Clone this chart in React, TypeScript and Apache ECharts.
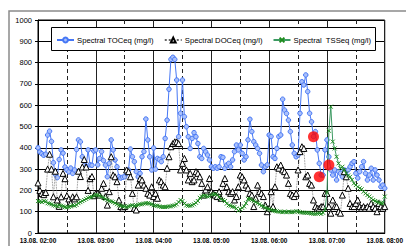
import { useEffect, useRef } from "react";
import * as echarts from "echarts";

// minutes after 13.08. 02:00, sampled every 2 minutes
const STEP_MIN = 2;
const hourLabels = [
  "13.08. 02:00",
  "13.08. 03:00",
  "13.08. 04:00",
  "13.08. 05:00",
  "13.08. 06:00",
  "13.08. 07:00",
  "13.08. 08:00",
];
const seriesNames = [
  "Spectral TOCeq (mg/l)",
  "Spectral DOCeq (mg/l)",
  "Spectral  TSSeq (mg/l)",
];

const tocValues = [
  400, 380, 372, 365, 370, 460, 478, 430, 330, 275,
  260, 345, 390, 375, 310, 296, 287, 305, 280, 296,
  392, 437, 428, 358, 335, 311, 390, 320, 318, 385,
  390, 320, 350, 382, 340, 319, 264, 327, 437, 390,
  343, 311, 264, 258, 262, 264, 280, 296, 394, 358,
  335, 288, 264, 280, 358, 382, 535, 437, 358, 296,
  399, 300, 350, 345, 335, 358, 444, 530, 675, 815,
  825, 815, 718, 452, 562, 718, 546, 499, 452, 397,
  444, 471, 452, 420, 358, 350, 397, 381, 366, 343,
  311, 304, 311, 304, 311, 358, 355, 304, 319, 327,
  311, 343, 382, 413, 390, 413, 374, 343, 358, 437,
  534, 476, 429, 413, 397, 374, 319, 288, 311, 320,
  460, 453, 358, 350, 397, 453, 460, 628, 577, 561,
  530, 476, 413, 374, 358, 366, 562, 710, 695, 742,
  664, 562, 522, 453, 476, 390, 327, 272, 272, 390,
  437, 358, 296, 272, 296, 249, 288, 280, 264, 296,
  272, 296, 311, 327, 335, 280, 258, 288, 311, 335,
  280, 249, 272, 304, 249, 296, 272, 249, 217, 225,
  210,
];

const docValues = [
  235, 200, 185, 180, 190, 300, 370, 300, 170, 290,
  155, 125, 170, 280, 255, 175, 160, 140, 170, 160,
  170, 290, 265, 310, 345, 310, 200, 255, 265, 175,
  185, 186, 178, 210, 233, 171, 131, 194, 358, 272,
  264, 241, 155, 124, 116, 124, 296, 288, 264, 186,
  116, 108, 225, 256, 249, 225, 210, 186, 178, 217,
  171, 186, 163, 249, 241, 225, 217, 304, 358, 405,
  420, 428, 428, 420, 296, 327, 350, 296, 249, 280,
  241, 249, 288, 280, 264, 233, 178, 202, 217, 256,
  194, 186, 178, 171, 194, 163, 233, 256, 217, 194,
  186, 194, 155, 171, 217, 272, 264, 249, 225, 210,
  186, 178, 124, 163, 225, 194, 186, 171, 131, 100,
  116, 194, 124, 217, 311, 304, 319, 296, 288, 272,
  233, 186, 178, 171, 186, 296, 382, 405, 397, 264,
  272, 233, 225, 155, 124, 116, 116, 124, 124, 186,
  186, 124, 93, 155, 124, 124, 100, 93, 178, 288,
  264, 210, 139, 124, 124, 139, 155, 124, 116, 124,
  116, 124, 116, 139, 124, 116, 100, 139, 124, 116,
  124,
];

const tssValues = [
  150, 148, 145, 150, 148, 140, 138, 135, 130, 128,
  125, 130, 128, 125, 122, 120, 122, 125, 130, 128,
  132, 140, 145, 150, 155, 160, 165, 168, 170, 175,
  180, 178, 175, 170, 165, 160, 155, 150, 148, 145,
  140, 135, 130, 128, 125, 125, 122, 125, 128, 130,
  128, 130, 132, 135, 135, 138, 140, 140, 138, 135,
  130, 128, 128, 125, 122, 122, 122, 123, 125, 125,
  128, 130, 135, 145, 155, 150, 138, 130, 128, 128,
  130, 135, 142, 150, 165, 172, 175, 175, 172, 172,
  180, 182, 182, 178, 170, 160, 155, 150, 138, 130,
  128, 124, 122, 115, 105, 112, 118, 125, 140, 160,
  160, 155, 150, 145, 140, 135, 128, 124, 118, 115,
  112, 108, 105, 104, 102, 100, 100, 98, 100, 98,
  100, 98, 98, 100, 102, 100, 98, 96, 95, 95,
  95, 94, 92, 90, 90, 92, 92, 90, 95, 110,
  190, 480, 593, 429, 397, 358, 327, 304, 311, 296,
  280, 270, 264, 250, 233, 225, 217, 210, 205, 194,
  186, 178, 171, 163, 155, 150, 147, 143, 141, 139,
  171,
];

// lab samples: [minutes after 02:00, mg/l]
const labMinutes = [286, 292, 302];
const labValues = [452, 264, 319];

const toPairs = (vals: number[]) => vals.map((v, i) => [i * STEP_MIN, v]);

const FONT = "Liberation Sans, Arial, sans-serif";

export default function App() {
  const ref = useRef<HTMLDivElement>(null);
  useEffect(() => {
    if (!ref.current) return;
    const chart = echarts.init(ref.current, undefined, { renderer: "svg" });
    chart.setOption({
      animation: false,
      backgroundColor: "#fff",
      textStyle: { fontFamily: FONT },
      grid: {
        left: 38,
        top: 20,
        right: 20,
        bottom: 13,
        show: true,
        borderColor: "#000",
        borderWidth: 1,
        backgroundColor: "transparent",
      },
      graphic: [
        {
          type: "rect",
          z: 0,
          silent: true,
          shape: { x: 9, y: 11, width: 420, height: 260 },
          style: { fill: "none", stroke: "#8a8a8a", lineWidth: 1.5 },
        },
        {
          type: "rect",
          z: 50,
          silent: true,
          shape: { x: 51.5, y: 27.5, width: 324, height: 23 },
          style: { fill: "#fff", stroke: "#000", lineWidth: 1 },
        },
      ],
      legend: {
        z: 60,
        data: seriesNames,
        left: 56,
        top: 36,
        padding: 0,
        itemWidth: 17,
        itemHeight: 6,
        itemGap: 10,
        textStyle: { fontSize: 7.7, color: "#000", fontFamily: FONT, padding: [0, 0, 0, -2] },
      },
      xAxis: {
        type: "value",
        min: 0,
        max: 360,
        interval: 60,
        axisLine: { show: true, lineStyle: { color: "#000", width: 1 } },
        axisTick: { show: false },
        axisLabel: {
          fontSize: 6.5,
          fontWeight: "bold",
          color: "#000",
          margin: 4,
          formatter: (v: number) => hourLabels[Math.round(v / 60)] ?? "",
        },
        splitLine: { show: true, lineStyle: { color: "#222", width: 1 } },
        minorTick: { show: false, splitNumber: 2 },
        minorSplitLine: {
          show: true,
          lineStyle: { color: "#222", width: 1, type: [4, 3] },
        },
      },
      yAxis: {
        type: "value",
        min: 0,
        max: 1000,
        interval: 100,
        axisLine: { show: true, lineStyle: { color: "#000", width: 1 } },
        axisTick: { show: true, length: 3, inside: false, lineStyle: { color: "#000" } },
        axisLabel: {
          fontSize: 7.5,
          color: "#000",
          margin: 6,
          formatter: (v: number) => String(v),
        },
        splitLine: { show: true, lineStyle: { color: "#000", width: 1 } },
      },
      series: [
        {
          name: seriesNames[0],
          type: "line",
          data: toPairs(tocValues),
          symbol: "circle",
          symbolSize: 4.5,
          showAllSymbol: true,
          lineStyle: { color: "#4677f5", width: 1 },
          itemStyle: { color: "#a9c0fb", borderColor: "#4677f5", borderWidth: 1 },
          z: 3,
        },
        {
          name: seriesNames[1],
          type: "line",
          data: toPairs(docValues),
          symbol: "triangle",
          symbolSize: 6,
          showAllSymbol: true,
          lineStyle: { color: "#666", width: 0.8, type: "dotted" },
          itemStyle: { color: "#fff", borderColor: "#000", borderWidth: 1 },
          z: 4,
        },
        {
          name: seriesNames[2],
          type: "line",
          data: toPairs(tssValues),
          symbol: "path://M0 0L10 10M10 0L0 10",
          symbolSize: 4,
          showAllSymbol: true,
          lineStyle: { color: "#3c9a62", width: 1 },
          itemStyle: { color: "#1e8c1e", borderColor: "#1e8c1e", borderWidth: 1 },
          z: 5,
        },
        {
          name: "Lab",
          type: "scatter",
          data: labMinutes.map((m, i) => [m, labValues[i]]),
          symbol: "circle",
          symbolSize: 11,
          itemStyle: { color: "#ff0000" },
          z: 6,
        },
      ],
    });
    return () => chart.dispose();
  }, []);
  return (
    <div
      ref={ref}
      style={{ position: "fixed", left: 0, top: 0, width: 406, height: 246 }}
    />
  );
}
